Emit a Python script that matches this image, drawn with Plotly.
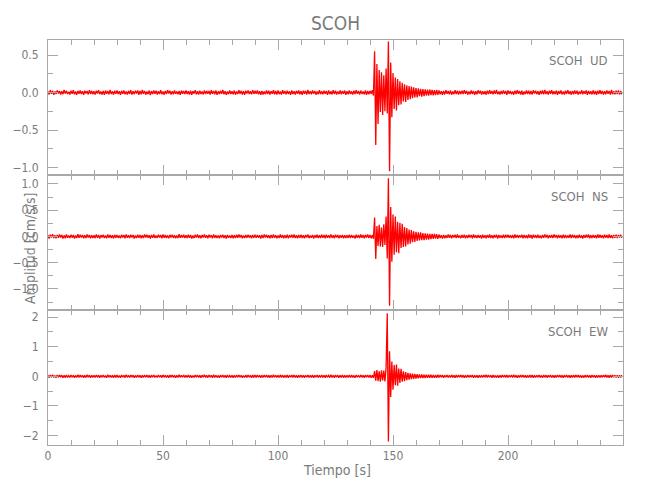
import numpy as np
import plotly.graph_objects as go
from plotly.subplots import make_subplots

STATION = "SCOH"
COMPONENTS = ["UD", "NS", "EW"]
DT = 0.5  # s between samples
X_TICKS = [0, 50, 100, 150, 200]

# amplitudes in milli cm/s/s, one row = 10 s
ud_milli = [
    12,-25,30,-18,22,-30,15,-20,28,-12,20,-27,18,-22,33,-15,25,-20,10,-28,
    24,-16,30,-25,14,-30,22,-18,27,-20,16,-32,25,-14,20,-26,31,-19,22,-24,
    18,-28,24,-15,30,-22,13,-27,21,-30,26,-17,19,-24,35,-20,15,-29,23,-16,
    27,-21,16,-31,24,-18,29,-23,12,-26,22,-19,31,-28,17,-22,25,-14,28,-30,
    20,-24,33,-17,21,-29,14,-22,26,-33,19,-20,28,-16,23,-27,16,-21,30,-25,
    15,-29,22,-20,31,-14,25,-28,18,-23,29,-18,14,-25,21,-31,26,-17,20,-22,
    28,-19,17,-26,23,-30,19,-15,32,-24,16,-28,24,-21,13,-26,29,-20,22,-18,
    21,-27,30,-16,19,-24,27,-31,15,-20,25,-17,33,-23,18,-29,14,-22,26,-20,
    17,-23,26,-29,14,-21,30,-18,22,-27,19,-32,24,-15,28,-20,16,-25,31,-19,
    23,-18,29,-24,16,-30,21,-26,13,-22,27,-19,25,-28,18,-16,30,-23,20,-27,
    26,-22,14,-28,31,-17,20,-25,24,-19,15,-30,29,-21,17,-26,22,-18,28,-24,
    19,-30,25,-16,22,-27,33,-20,18,-24,26,-15,21,-29,14,-23,30,-22,17,-25,
    24,-17,20,-31,27,-22,16,-26,30,-19,23,-28,15,-21,28,-24,19,-17,26,-30,
    18,-25,29,-20,15,-27,24,-22,31,-16,21,-29,26,-18,13,-24,27,-31,20,-23,
    22,-19,30,-40,550,-700,380,-420,300,-260,270,-300,230,-250,320,-280,680,-1050,400,-330,
    260,-220,200,-240,180,-170,150,-160,130,-120,110,-125,95,-100,85,-90,80,-75,70,-65,
    60,-65,55,-50,50,-55,45,-48,42,-40,38,-42,40,-35,36,-38,32,-36,35,-30,
    28,-24,18,-30,22,-26,31,-17,20,-23,26,-29,15,-22,30,-20,24,-27,19,-21,
    25,-20,31,-16,22,-28,14,-24,27,-19,21,-32,17,-23,29,-15,24,-26,18,-22,
    16,-29,23,-21,30,-17,20,-25,26,-18,33,-24,15,-27,22,-20,28,-16,21,-30,
    27,-18,20,-24,15,-29,25,-21,32,-17,19,-26,23,-30,14,-22,28,-19,24,-25,
    21,-26,29,-15,24,-22,17,-31,22,-19,27,-24,36,-20,16,-28,25,-17,30,-23,
    18,-22,26,-30,20,-16,28,-25,14,-27,23,-19,31,-21,17,-29,22,-24,26,-18,
    24,-28,15,-21,30,-25,19,-17,27,-30,22,-20,16,-26,29,-23,20,-31,25,-19,
    30,-20,22,-27,17,-24,28,-18,21,-29,33,-22,16,-25,24,-20,29,-26,19,-23,
]

ns_milli = [
    25,-38,32,-20,41,-29,22,-35,30,-24,37,-18,28,-40,21,-33,36,-26,19,-31,
    34,-22,27,-39,20,-30,42,-25,31,-19,26,-36,23,-28,38,-21,29,-34,24,-27,
    21,-32,36,-24,29,-41,25,-20,33,-28,18,-35,40,-23,27,-30,22,-37,31,-26,
    30,-27,19,-36,34,-21,26,-33,39,-25,23,-29,32,-18,28,-38,20,-31,35,-24,
    27,-35,23,-28,37,-20,31,-26,22,-40,29,-23,36,-30,19,-27,33,-21,26,-34,
    38,-24,28,-31,21,-36,30,-19,35,-27,24,-33,20,-29,41,-25,27,-22,32,-30,
    22,-29,34,-25,27,-38,19,-32,31,-21,36,-28,23,-35,29,-20,38,-26,25,-33,
    31,-20,26,-37,40,-27,24,-30,20,-34,28,-22,35,-29,22,-39,30,-24,18,-28,
    26,-33,21,-29,32,-24,37,-21,27,-36,19,-31,29,-26,34,-22,24,-35,30,-27,
    35,-25,30,-22,23,-39,28,-31,36,-20,32,-27,21,-34,26,-29,39,-23,22,-32,
    20,-30,38,-26,29,-33,22,-28,34,-37,25,-21,31,-25,37,-30,23,-36,28,-24,
    33,-28,24,-35,27,-21,36,-32,20,-26,30,-39,26,-23,33,-28,21,-31,35,-25,
    28,-36,32,-23,21,-30,39,-27,25,-34,35,-22,29,-37,24,-26,30,-33,22,-29,
    24,-27,35,-31,30,-25,20,-38,33,-23,27,-30,38,-24,26,-35,31,-21,36,-28,
    30,-35,28,-45,360,-430,200,-180,220,-190,170,-200,230,-160,380,-420,1110,-1320,560,-480,
    420,-350,380,-300,280,-320,260,-220,240,-200,180,-190,160,-150,130,-140,120,-110,100,-105,
    90,-85,80,-75,78,-70,65,-68,60,-62,55,-58,50,-52,48,-45,50,-42,44,-46,
    36,-30,25,-38,29,-34,22,-27,40,-24,31,-36,26,-21,33,-29,37,-25,20,-32,
    29,-23,34,-37,24,-28,31,-20,27,-35,38,-26,22,-31,30,-24,25,-39,33,-27,
    22,-34,30,-25,36,-29,21,-33,28,-22,34,-38,27,-24,20,-30,35,-28,31,-21,
    33,-26,21,-31,27,-36,38,-23,30,-27,23,-20,32,-35,26,-29,22,-33,37,-25,
    27,-39,32,-22,25,-30,35,-28,19,-34,29,-25,36,-21,31,-37,24,-26,28,-30,
    38,-21,26,-33,30,-25,22,-36,34,-29,27,-31,20,-24,37,-28,33,-22,25,-35,
    23,-30,35,-27,21,-38,28,-24,32,-20,36,-33,25,-29,30,-26,22,-35,39,-23,
    31,-25,24,-36,33,-22,27,-30,38,-28,21,-34,29,-23,35,-31,26,-20,32,-27,
]

ew_milli = [
    35,-48,42,-30,52,-38,28,-45,40,-33,47,-27,38,-50,31,-43,46,-35,29,-41,
    44,-32,37,-49,30,-40,53,-35,41,-29,36,-46,33,-38,48,-31,39,-44,34,-37,
    31,-42,46,-34,39,-51,35,-30,43,-38,28,-45,50,-33,37,-40,32,-47,41,-36,
    40,-37,29,-46,44,-31,36,-43,49,-35,33,-39,42,-28,38,-48,30,-41,45,-34,
    37,-45,33,-38,47,-30,41,-36,32,-50,39,-33,46,-40,29,-37,43,-31,36,-44,
    48,-34,38,-41,31,-46,40,-29,45,-37,34,-43,30,-39,51,-35,37,-32,42,-40,
    32,-39,44,-35,37,-48,29,-42,41,-31,46,-38,33,-45,39,-30,48,-36,35,-43,
    41,-30,36,-47,50,-37,34,-40,30,-44,38,-32,45,-39,32,-49,40,-34,28,-38,
    36,-43,31,-39,42,-34,47,-31,37,-46,29,-41,39,-36,44,-32,34,-45,40,-37,
    45,-35,40,-32,33,-49,38,-41,46,-30,42,-37,31,-44,36,-39,49,-33,32,-42,
    30,-40,48,-36,39,-43,32,-38,44,-47,35,-31,41,-35,47,-40,33,-46,38,-34,
    43,-38,34,-45,37,-31,46,-42,30,-36,40,-49,36,-33,43,-38,31,-41,45,-35,
    38,-46,42,-33,31,-40,49,-37,35,-44,45,-32,39,-47,34,-36,40,-43,32,-39,
    34,-37,45,-41,40,-35,30,-48,43,-33,37,-40,48,-34,36,-45,41,-31,46,-38,
    40,-45,35,-50,180,-150,210,-160,170,-180,200,-140,190,-170,300,2130,-2200,850,-700,500,
    -450,380,-300,400,-320,260,-220,250,-180,170,-160,140,-130,120,-115,100,-95,90,-85,80,
    -75,70,-68,65,-60,62,-58,55,-56,52,-50,54,-48,50,-52,46,-50,48,-45,50,
    -38,44,-33,41,-47,36,-30,45,-39,34,-42,48,-35,31,-44,40,-37,46,-32,43,
    -36,39,-45,33,-41,47,-34,38,-30,43,-49,35,-40,32,-46,37,-42,30,-38,44,
    -33,48,-37,42,-31,36,-45,40,-35,29,-43,39,-47,34,-38,45,-32,41,-36,46,
    -41,35,-30,44,-39,49,-34,37,-46,31,-36,42,-33,47,-40,38,-44,32,-37,43,
    -35,40,-48,33,-42,36,-31,45,-38,30,-47,41,-34,39,-43,35,-29,46,-40,37,
    -44,31,-36,47,-33,42,-39,34,-45,38,-30,43,-41,36,-48,32,-37,40,-35,45,
    -32,46,-40,35,-47,30,-43,39,-34,44,-38,33,-45,41,-31,37,-49,36,-42,34,
    -39,36,-34,43,-30,48,-37,32,-44,40,-36,45,-33,38,-41,35,-46,31,-40,42,
]

Y_RANGES = [[-1.1, 0.7], [-1.4, 1.17], [-2.32, 2.24]]
Y_DTICK = [0.5, 0.5, 1.0]
Y_MINOR = [0.25, 0.25, 0.5]
Y_FMT = [".1f", ".1f", "d"]

FONT = "Liberation Sans Narrow, DejaVu Sans Condensed, Arial Narrow, sans-serif"
TXT = "#7a7a7a"
AX = "#a8a8a8"
RED = "#ff0000"

traces = [ud_milli, ns_milli, ew_milli]

fig = make_subplots(rows=3, cols=1, shared_xaxes=True, vertical_spacing=0)

for i, vals in enumerate(traces):
    y = np.array(vals, dtype=float) / 1000.0
    t = np.arange(len(y)) * DT
    fig.add_trace(
        go.Scatter(x=t, y=y, mode="lines", line=dict(color=RED, width=1.3),
                   hoverinfo="skip", showlegend=False),
        row=i + 1, col=1,
    )
    fig.update_yaxes(
        range=Y_RANGES[i], dtick=Y_DTICK[i], tick0=0, tickformat=Y_FMT[i],
        minor=dict(dtick=Y_MINOR[i], tick0=0, ticklen=5, ticks="inside",
                   tickcolor=AX, tickwidth=1, showgrid=False),
        row=i + 1, col=1,
    )

fig.update_xaxes(
    range=[0, 250], tickvals=X_TICKS, automargin=False,
    minor=dict(dtick=10, tick0=0, ticklen=5, ticks="inside", tickcolor=AX,
               tickwidth=1, showgrid=False),
    showline=True, linecolor=AX, linewidth=1, mirror="allticks",
    ticks="inside", ticklen=10, tickwidth=1, tickcolor=AX,
    showgrid=False, zeroline=False,
    tickfont=dict(family=FONT, size=12, color=TXT),
)
fig.update_yaxes(
    showline=True, linecolor=AX, linewidth=1, mirror="allticks",
    ticks="inside", ticklen=10, tickwidth=1, tickcolor=AX, automargin=False,
    showgrid=False, zeroline=False, ticklabelstandoff=6,
    tickfont=dict(family=FONT, size=12, color=TXT),
)

L, R, T, B = 48, 27, 40, 55
W, H = 650, 500
pw, ph = W - L - R, H - T - B


def px_x(px):
    return (px - L) / pw


def px_y(py):
    return (H - B - py) / ph


annotations = [
    dict(text=STATION, x=0.5, y=px_y(22.5), xref="paper", yref="paper",
         showarrow=False, xanchor="center", yanchor="middle",
         font=dict(family=FONT, size=19, color=TXT)),
    dict(text="Tiempo [s]", x=px_x(337), y=px_y(470), xref="paper", yref="paper",
         showarrow=False, xanchor="center", yanchor="middle",
         font=dict(family=FONT, size=14, color=TXT)),
    dict(text="Amplitud [cm/s/s]", x=px_x(30), y=px_y(249), xref="paper", yref="paper",
         showarrow=False, xanchor="center", yanchor="middle", textangle=-90,
         font=dict(family=FONT, size=14, color=TXT)),
]
panel_tops = [T, T + ph / 3, T + 2 * ph / 3]
for comp, top in zip(COMPONENTS, panel_tops):
    annotations.append(
        dict(text=f"{STATION}  {comp}", x=px_x(609.5), y=px_y(top + 21),
             xref="paper", yref="paper", showarrow=False,
             xanchor="right", yanchor="middle",
             font=dict(family=FONT, size=13, color=TXT))
    )

fig.update_layout(
    width=W, height=H,
    margin=dict(l=L, r=R, t=T, b=B, pad=0, autoexpand=False),
    plot_bgcolor="white", paper_bgcolor="white",
    annotations=annotations,
    showlegend=False,
)

fig.write_html("out.html", config={"displayModeBar": False},
               post_script="document.body.style.margin='0px';")
